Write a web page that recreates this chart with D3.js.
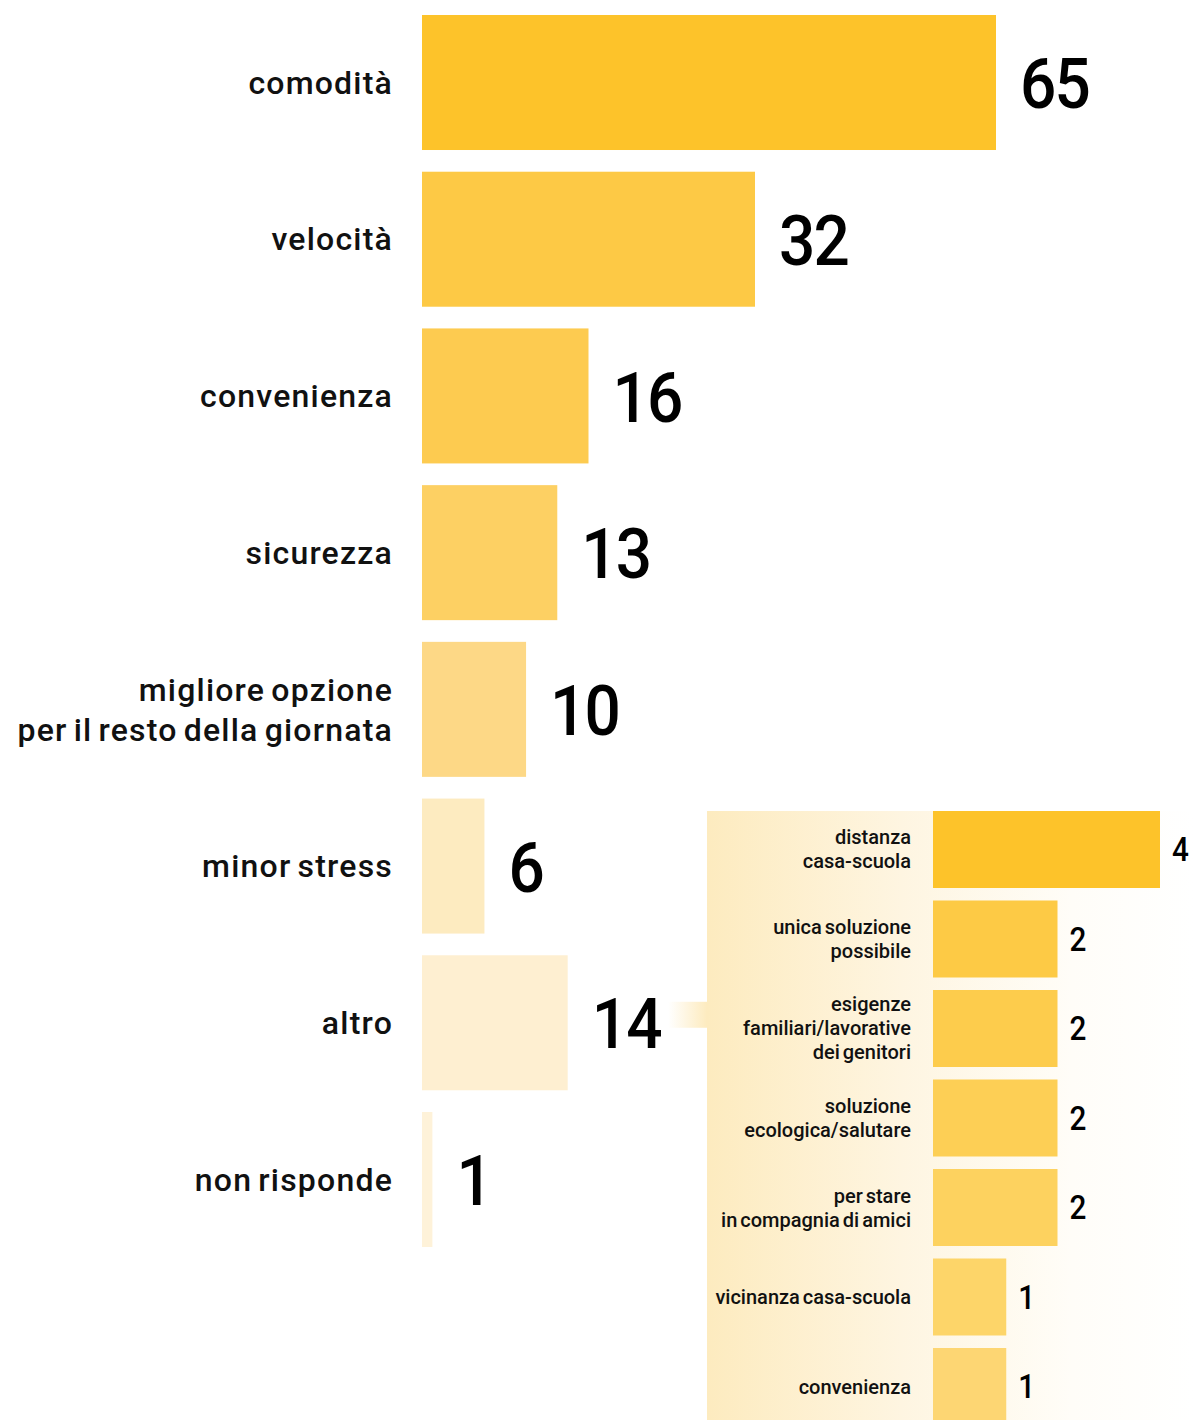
<!DOCTYPE html>
<html>
<head>
<meta charset="utf-8">
<script src="https://cdn.jsdelivr.net/npm/d3@7"></script>
<style>
  html, body { margin: 0; padding: 0; background: #ffffff; }
  svg { display: block; }
  .lbl { font-family: Roboto, "Noto Sans", sans-serif; font-weight: 500; fill: #111; }
  .num { font-family: Roboto, "Noto Sans", sans-serif; font-weight: 500; fill: #000; }
</style>
</head>
<body>
<script>
// ---- data ----
const categories = [
  ["comodità"],
  ["velocità"],
  ["convenienza"],
  ["sicurezza"],
  ["migliore opzione", "per il resto della giornata"],
  ["minor stress"],
  ["altro"],
  ["non risponde"]
];
const values = [65, 32, 16, 13, 10, 6, 14, 1];
const barColors = ["#fdc32a", "#fdc945", "#fdcb50", "#fdd063", "#fdd886", "#fdebc0", "#feefd1", "#fef2d9"];

const subCategories = [
  ["distanza", "casa-scuola"],
  ["unica soluzione", "possibile"],
  ["esigenze", "familiari/lavorative", "dei genitori"],
  ["soluzione", "ecologica/salutare"],
  ["per stare", "in compagnia di amici"],
  ["vicinanza casa-scuola"],
  ["convenienza"]
];
const subValues = [4, 2, 2, 2, 2, 1, 1];
const subColors = ["#fdc32a", "#fdca45", "#fdcc4c", "#fdcf55", "#fdd25f", "#fdd569", "#fdd673"];
const expandedCategory = "altro";

// ---- layout ----
const W = 1194, H = 1420;
const svg = d3.select("body").append("svg").attr("width", W).attr("height", H);

const defs = svg.append("defs");
const pg = defs.append("linearGradient").attr("id", "panelGrad")
  .attr("gradientUnits", "userSpaceOnUse").attr("x1", 707).attr("x2", 1194).attr("y1", 0).attr("y2", 0);
pg.append("stop").attr("offset", 0).attr("stop-color", "#fdebbf");
pg.append("stop").attr("offset", 0.4).attr("stop-color", "#fef5e1");
pg.append("stop").attr("offset", 0.75).attr("stop-color", "#fffdf8");
pg.append("stop").attr("offset", 1).attr("stop-color", "#ffffff");
const cg = defs.append("linearGradient").attr("id", "connGrad")
  .attr("x1", 0).attr("x2", 1).attr("y1", 0).attr("y2", 0);
cg.append("stop").attr("offset", 0).attr("stop-color", "#fdebbf").attr("stop-opacity", 0);
cg.append("stop").attr("offset", 1).attr("stop-color", "#fdebbf").attr("stop-opacity", 1);

const panelLayer = svg.append("g");

// main chart
const x0 = 422;
const x = d3.scaleLinear().domain([0, 32, 65]).range([0, 333, 574]);
const y = d3.scaleBand().domain(d3.range(values.length)).range([15, 1247]).paddingInner(0.1385).paddingOuter(0);
const color = d3.scaleOrdinal().domain(d3.range(values.length)).range(barColors);

const main = svg.append("g");
main.selectAll("rect.bar").data(values).join("rect")
  .attr("class", "bar")
  .attr("x", x0)
  .attr("y", (d, i) => y(i))
  .attr("width", d => x(d))
  .attr("height", y.bandwidth())
  .attr("fill", (d, i) => color(i));

const numSel = main.selectAll("text.num").data(values).join("text")
  .attr("class", "num")
  .attr("transform", (d, i) => `translate(${x0 + x(d) + 24},${y(i) + y.bandwidth() / 2}) scale(0.9,1)`)
  .attr("dy", "0.36em")
  .attr("font-size", 71)
  .attr("letter-spacing", -2)
  .text(d => d);

const lineH = 40;
main.selectAll("text.lbl").data(categories).join("text")
  .attr("class", "lbl")
  .attr("text-anchor", "end")
  .attr("font-size", 32)
  .attr("letter-spacing", 1.2)
  .attr("word-spacing", -3)
  .each(function (lines, i) {
    const cy = y(i) + y.bandwidth() / 2;
    const t = d3.select(this);
    lines.forEach((ln, k) => {
      t.append("tspan")
        .attr("x", 393)
        .attr("y", cy + (k - (lines.length - 1) / 2) * lineH)
        .attr("dy", "0.35em")
        .text(ln);
    });
  });

// sub chart
const idx = categories.findIndex(c => c[0] === expandedCategory);
const panelX = 707, panelTop = 811;
panelLayer.append("rect")
  .attr("x", panelX).attr("y", panelTop).attr("width", W - panelX).attr("height", H - panelTop)
  .attr("fill", "url(#panelGrad)");

// connector from the expanded category's number to the panel
const numNode = numSel.filter((d, i) => i === idx).node();
const bb = numNode.getBoundingClientRect();
const connStart = Math.min(bb.right + 7, panelX - 20);
const connMid = y(idx) + y.bandwidth() / 2 - 8;
panelLayer.append("rect")
  .attr("x", connStart).attr("y", connMid - 13).attr("width", panelX - connStart).attr("height", 26)
  .attr("fill", "url(#connGrad)");

const sx0 = 933;
const sx = d3.scaleLinear().domain([0, 4]).range([22, 227]);
const sy = d3.scaleBand().domain(d3.range(subValues.length)).range([811, 1425]).paddingInner(0.1397).paddingOuter(0);
const scolor = d3.scaleOrdinal().domain(d3.range(subValues.length)).range(subColors);

const sub = svg.append("g");
sub.selectAll("rect").data(subValues).join("rect")
  .attr("x", sx0)
  .attr("y", (d, i) => sy(i))
  .attr("width", d => sx(d))
  .attr("height", sy.bandwidth())
  .attr("fill", (d, i) => scolor(i));

sub.selectAll("text.num").data(subValues).join("text")
  .attr("class", "num")
  .attr("transform", (d, i) => `translate(${sx0 + sx(d) + 12},${sy(i) + sy.bandwidth() / 2}) scale(0.9,1)`)
  .attr("dy", "0.36em")
  .attr("font-size", 33)
  .text(d => d);

const sLineH = 24;
sub.selectAll("text.lbl").data(subCategories).join("text")
  .attr("class", "lbl")
  .attr("text-anchor", "end")
  .attr("font-size", 20)
  .attr("word-spacing", -2)
  .each(function (lines, i) {
    const cy = sy(i) + sy.bandwidth() / 2;
    const t = d3.select(this);
    lines.forEach((ln, k) => {
      t.append("tspan")
        .attr("x", 911)
        .attr("y", cy + (k - (lines.length - 1) / 2) * sLineH)
        .attr("dy", "0.35em")
        .text(ln);
    });
  });
</script>
</body>
</html>
